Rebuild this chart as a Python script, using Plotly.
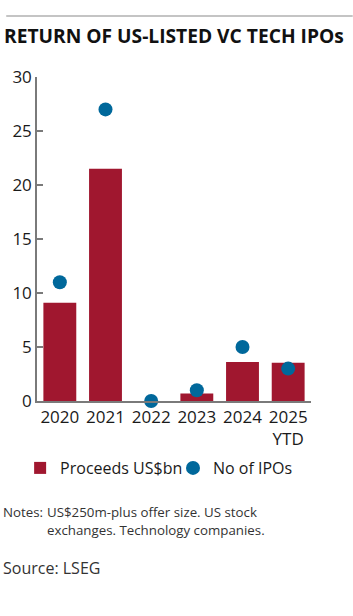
import plotly.graph_objects as go

categories = ["2020", "2021", "2022", "2023", "2024", "2025<br>YTD"]
proceeds = [9.1, 21.5, 0.0, 0.7, 3.6, 3.55]
num_ipos = [11, 27, 0, 1, 5, 3]
y_ticks = [0, 5, 10, 15, 20, 25, 30]

BAR_COLOR = "#a0172f"
DOT_COLOR = "#00689b"
AXIS_COLOR = "#7a7a7a"
TEXT = "#1a1a1a"
FONT = "Open Sans"

W, H = 353, 616
L, R, T, B = 35, 42, 77, 215
pw, ph = W - L - R, H - T - B

def px(x):
    return (x - L) / pw

def py(y):
    return (H - B - y) / ph

fig = go.Figure()
fig.add_trace(go.Bar(x=categories, y=proceeds, name="Proceeds US$bn", legend="legend",
                     marker=dict(color=BAR_COLOR, line=dict(width=0))))
fig.add_trace(go.Scatter(x=categories, y=num_ipos, name="No of IPOs", mode="markers",
                         legend="legend2",
                         marker=dict(color=DOT_COLOR, size=14, line=dict(width=0)),
                         cliponaxis=False))

legend_common = dict(orientation="h", xanchor="left", yanchor="middle",
                     font=dict(size=16, color=TEXT), bgcolor="rgba(0,0,0,0)",
                     itemclick=False, itemdoubleclick=False)

fig.update_layout(
    width=W, height=H,
    margin=dict(l=L, r=R, t=T, b=B, pad=0),
    paper_bgcolor="white", plot_bgcolor="white",
    bargap=0.28,
    font=dict(family=FONT, color=TEXT, size=16),
    showlegend=True,
    legend=dict(x=px(18), y=py(468), **legend_common),
    legend2=dict(x=px(172), y=py(468), **legend_common),
    xaxis=dict(type="category", range=[-0.5, 5.5], showline=True, linecolor=AXIS_COLOR,
               linewidth=1.5, ticks="", showgrid=False, zeroline=False,
               tickfont=dict(size=17, color=TEXT)),
    yaxis=dict(range=[0, 30], tickvals=y_ticks, ticktext=[str(v) for v in y_ticks],
               showline=True, linecolor=AXIS_COLOR, linewidth=1.5,
               ticks="inside", ticklen=6, tickcolor=AXIS_COLOR, tickwidth=1.5,
               showgrid=False, zeroline=False, tickfont=dict(size=17, color=TEXT)),
    shapes=[dict(type="line", xref="paper", yref="paper", x0=px(4), x1=px(353),
                 y0=py(16), y1=py(16), line=dict(color="#c4c4c4", width=2))],
    annotations=[
        dict(text="<b>RETURN OF US-LISTED VC TECH IPOs</b>", xref="paper", yref="paper",
             x=px(0), y=py(35), xanchor="left", yanchor="middle", showarrow=False,
             font=dict(size=19.2, color="#111", family=FONT)),
        dict(text="Notes:", xref="paper", yref="paper", x=px(-1), y=py(512),
             xanchor="left", yanchor="middle", showarrow=False,
             font=dict(size=13.3, color="#333")),
        dict(text="US$250m-plus offer size. US stock", xref="paper", yref="paper",
             x=px(43), y=py(512), xanchor="left", yanchor="middle", showarrow=False,
             font=dict(size=13.3, color="#333")),
        dict(text="exchanges. Technology companies.", xref="paper", yref="paper",
             x=px(43), y=py(530), xanchor="left", yanchor="middle", showarrow=False,
             font=dict(size=13.3, color="#333")),
        dict(text="Source: LSEG", xref="paper", yref="paper", x=px(-1), y=py(568),
             xanchor="left", yanchor="middle", showarrow=False,
             font=dict(size=16, color="#333")),
    ],
)

fig.write_html("out.html")
